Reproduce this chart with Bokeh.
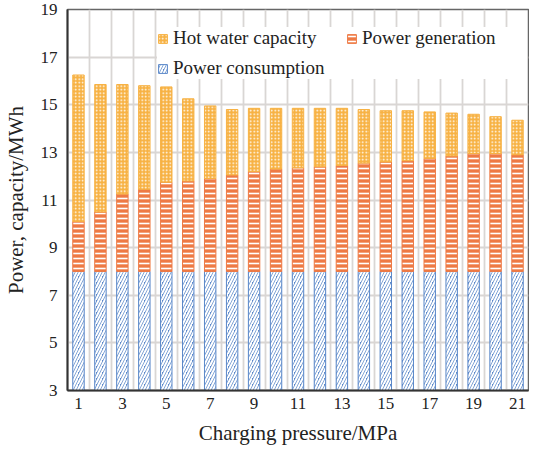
from bokeh.plotting import figure
from bokeh.models import ColumnDataSource, FixedTicker, Legend, LegendItem
from bokeh.embed import file_html
from bokeh.resources import INLINE

pressure = [1, 2, 3, 4, 5, 6, 7, 8, 9, 10, 11, 12, 13, 14, 15, 16, 17, 18, 19, 20, 21]
power_consumption = [8.0, 8.0, 8.0, 8.0, 8.0, 8.0, 8.0, 8.0, 8.0, 8.0, 8.0,
                     8.0, 8.0, 8.0, 8.0, 8.0, 8.0, 8.0, 8.0, 8.0, 8.0]
power_generation = [2.1, 2.5, 3.25, 3.45, 3.75, 3.8, 3.9, 4.05, 4.2, 4.3, 4.35,
                    4.4, 4.45, 4.55, 4.6, 4.65, 4.75, 4.85, 4.95, 4.95, 4.9]
hot_water_capacity = [6.15, 5.35, 4.6, 4.35, 4.0, 3.45, 3.05, 2.75, 2.65, 2.55, 2.5,
                      2.45, 2.4, 2.25, 2.15, 2.1, 1.95, 1.8, 1.65, 1.55, 1.45]
x_tick_values = [1, 3, 5, 7, 9, 11, 13, 15, 17, 19, 21]
y_tick_values = [3, 5, 7, 9, 11, 13, 15, 17, 19]

FONT = "'Liberation Serif', 'Times New Roman', serif"

source = ColumnDataSource(dict(x=pressure, cons=power_consumption,
                               gen=power_generation, hot=hot_water_capacity))

p = figure(width=529, height=447, x_range=(0.5, 21.5), y_range=(3, 19),
           output_backend="svg", toolbar_location=None,
           min_border_left=61, min_border_right=1, min_border_top=9, min_border_bottom=57)

r_cons, r_gen, r_hot = p.vbar_stack(
    ["cons", "gen", "hot"], x="x", width=0.52, source=source,
    fill_color=["#5b88c9", "#ee7a45", "#f7b244"],
    line_color=["#5b88c9", "#ee7a45", "#f7b244"],
    hatch_pattern=["/", "-", "."],
    hatch_color="white",
    hatch_scale=[6, 5, 3.5],
    hatch_weight=[2.0, 1.6, 2.4],
)

p.xaxis.ticker = FixedTicker(ticks=x_tick_values)
p.yaxis.ticker = FixedTicker(ticks=y_tick_values)
p.xgrid.ticker = FixedTicker(ticks=[v + 0.5 for v in pressure[:-1]])
p.ygrid.ticker = FixedTicker(ticks=y_tick_values)
for g in (p.xgrid, p.ygrid):
    g.grid_line_color = "#d9d6d4"
    g.grid_line_width = 1.8

for ax in (p.xaxis, p.yaxis):
    ax.major_tick_line_color = None
    ax.minor_tick_line_color = None
    ax.major_tick_out = 0
    ax.major_tick_in = 0
    ax.axis_line_color = "#333333"
    ax.axis_line_width = 2
    ax.major_label_text_font = FONT
    ax.major_label_text_font_size = "17px"
    ax.major_label_text_color = "#222222"
    ax.axis_label_text_font = FONT
    ax.axis_label_text_font_size = "21px"
    ax.axis_label_text_font_style = "normal"
    ax.axis_label_text_color = "#222222"

p.xaxis.axis_label = "Charging pressure/MPa"
p.yaxis.axis_label = "Power, capacity/MWh"
p.xaxis.major_label_standoff = 7
p.xaxis.axis_label_standoff = 9
p.yaxis.major_label_standoff = 10
p.yaxis.axis_label_standoff = 10

p.outline_line_color = "#666666"
p.outline_line_width = 1.5

legend = Legend(items=[
    LegendItem(label="Hot water capacity", renderers=[r_hot]),
    LegendItem(label="Power generation", renderers=[r_gen]),
    LegendItem(label="Power consumption", renderers=[r_cons]),
], location=(90, 311), orientation="horizontal", ncols=2)
legend.label_text_font = FONT
legend.label_text_font_size = "19px"
legend.label_text_color = "#222222"
legend.glyph_width = 11
legend.glyph_height = 11
legend.label_standoff = 5
legend.label_width = 165
legend.label_height = 20
legend.spacing = 8
legend.padding = 6
legend.margin = 0
legend.border_line_color = None
legend.background_fill_color = "white"
legend.background_fill_alpha = 1.0
p.add_layout(legend, "center")

open("out.html", "w").write(file_html(p, INLINE))
